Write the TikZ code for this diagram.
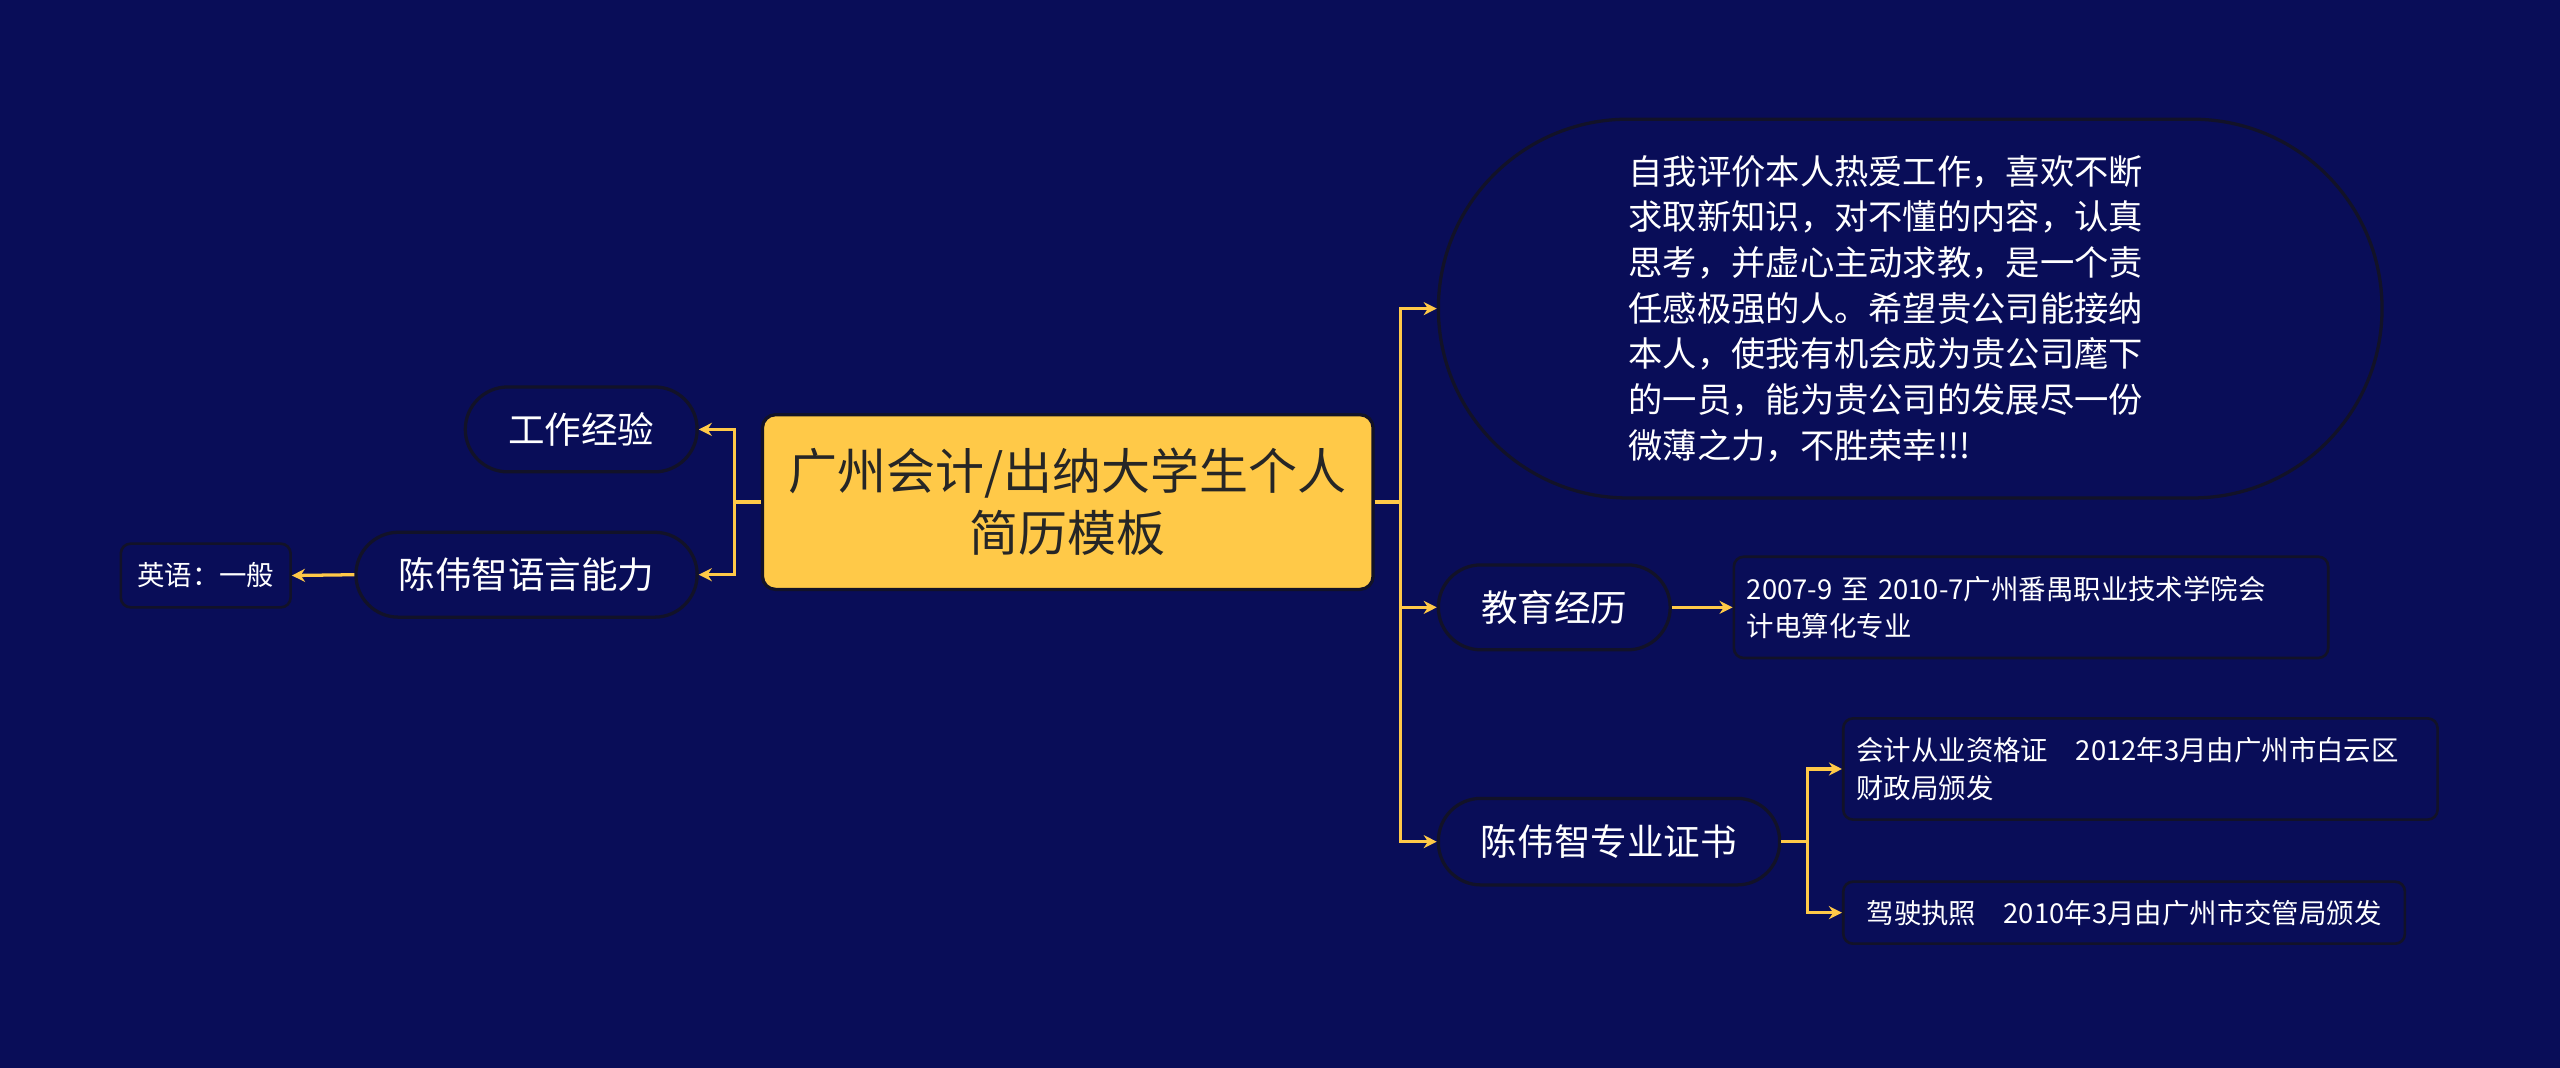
\documentclass[tikz,border=0pt]{standalone}
\usepackage{fontspec}
\setmainfont{Noto Sans CJK SC}
\usetikzlibrary{arrows.meta}
\definecolor{bg}{RGB}{9,13,88}
\definecolor{yel}{RGB}{255,201,72}
\definecolor{edge}{RGB}{18,18,40}
\begin{document}
\begin{tikzpicture}[x=0.5pt,y=-0.5pt,
  pill/.style={draw=edge,line width=1pt,fill=bg,text=white,rounded corners=13pt,font=\fontsize{11.2}{14}\selectfont,inner sep=0pt},
  leaf/.style={draw=edge,line width=0.8pt,fill=bg,text=white,rounded corners=3pt,font=\fontsize{8.4}{11.5}\selectfont,inner sep=0pt},
  conn/.style={draw=yel,line width=1pt,-{Stealth[length=4pt,width=4pt]}}]
\fill[bg] (0,0) rectangle (1568,654);
\useasboundingbox (0,0) rectangle (1568,654);
\node[draw=edge,line width=1pt,fill=yel,rounded corners=4pt,minimum width=187pt,minimum height=53.5pt,align=center,font=\fontsize{15}{19}\selectfont,text=black!85] (c) at (654,307.5) {广州会计/出纳大学生个人\\简历模板};
\node[pill,minimum width=71pt,minimum height=26pt] (gz) at (356,263) {工作经验};
\node[pill,minimum width=104.5pt,minimum height=26pt] (yy) at (322.5,352) {陈伟智语言能力};
\node[leaf,minimum width=52pt,minimum height=19.5pt] (en) at (126,352.5) {英语：一般};
\node[pill,rounded corners=58pt,minimum width=289pt,minimum height=116pt] (big) at (1170,189) {};
\node[text=white,align=left,font=\fontsize{10.5}{14}\selectfont,inner sep=0pt] (bigt) at (1155,189) {自我评价本人热爱工作，喜欢不断\\求取新知识，对不懂的内容，认真\\思考，并虚心主动求教，是一个责\\任感极强的人。希望贵公司能接纳\\本人，使我有机会成为贵公司麾下\\的一员，能为贵公司的发展尽一份\\微薄之力，不胜荣幸!!!};
\node[pill,minimum width=71pt,minimum height=26pt] (jy) at (952,372) {教育经历};
\node[leaf,minimum width=182pt,minimum height=31pt,text width=174pt,align=left] (edu) at (1244,372) {2007-9 至 2010-7广州番禺职业技术学院会\\计电算化专业};
\node[pill,minimum width=104.5pt,minimum height=26.5pt] (zs) at (985.5,515.5) {陈伟智专业证书};
\node[leaf,minimum width=182pt,minimum height=31pt,text width=174pt,align=left] (c1) at (1311,471) {会计从业资格证\quad 2012年3月由广州市白云区\\财政局颁发};
\node[leaf,minimum width=172pt,minimum height=19pt] (c2) at (1301,559) {驾驶执照\quad 2010年3月由广州市交管局颁发};
\coordinate (rt) at (858,307.5);
\coordinate (lt) at (450,307.5);
\coordinate (zt) at (1107,515.5);
\draw[yel,line width=1pt] (c.east)--(rt) (c.west)--(lt) (zs.east)--(zt);
\draw[conn] (rt)|-(big.west);
\draw[conn] (rt)|-(jy.west);
\draw[conn] (rt)|-(zs.west);
\draw[conn] (lt)|-(gz.east);
\draw[conn] (lt)|-(yy.east);
\draw[conn] (yy.west)--(en.east);
\draw[conn] (jy.east)--(edu.west);
\draw[conn] (zt)|-(c1.west);
\draw[conn] (zt)|-(c2.west);
\end{tikzpicture}
\end{document}
